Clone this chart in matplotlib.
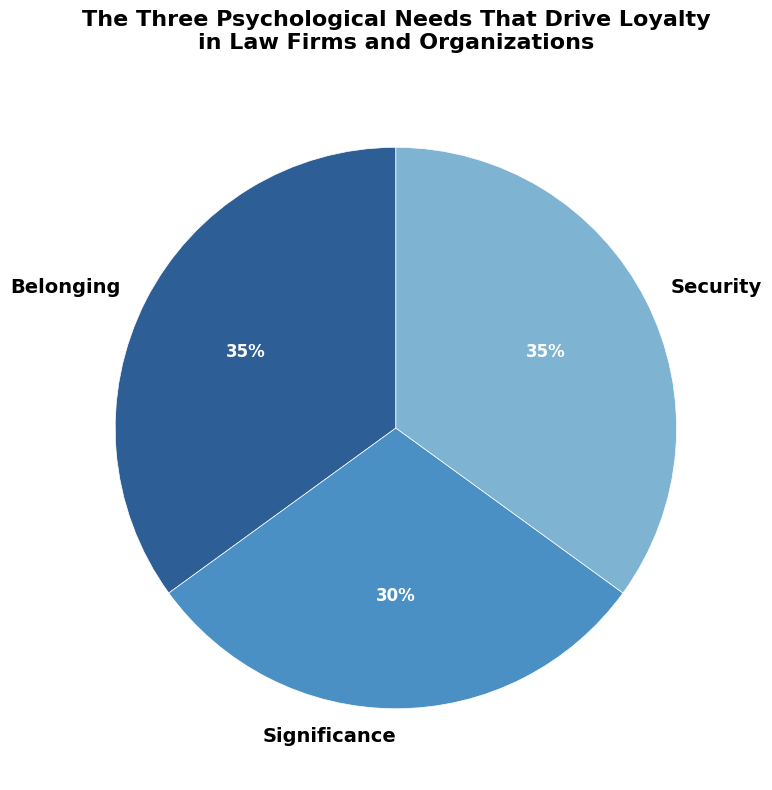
import numpy as np
import matplotlib.pyplot as plt

# data
labels = ["Belonging", "Significance", "Security"]
shares = [35, 30, 35]
colors = ["#2e5e96", "#4a90c4", "#7eb3d2"]

fig = plt.figure(figsize=(7.72, 7.9), dpi=100)
ax = fig.add_axes([0.0583, 0.0139, 0.909, 0.8886])

wedges, texts, autotexts = ax.pie(
    shares, labels=labels, colors=colors, autopct="%1.0f%%",
    startangle=90, labeldistance=1.1, pctdistance=0.6,
    wedgeprops=dict(edgecolor="white", linewidth=0.5),
    textprops=dict(fontsize=14, fontweight="bold"))

# bottom label sits to the left of centre in the original
texts[1].set_ha("right")

for t in autotexts:
    t.set_color("white")
    t.set_fontsize(12)

fig.text(396.5 / 772, 1 - 10 / 790,
         "The Three Psychological Needs That Drive Loyalty\nin Law Firms and Organizations",
         ha="center", va="top", fontsize=16, fontweight="bold")

plt.savefig("out.png", dpi=100)
